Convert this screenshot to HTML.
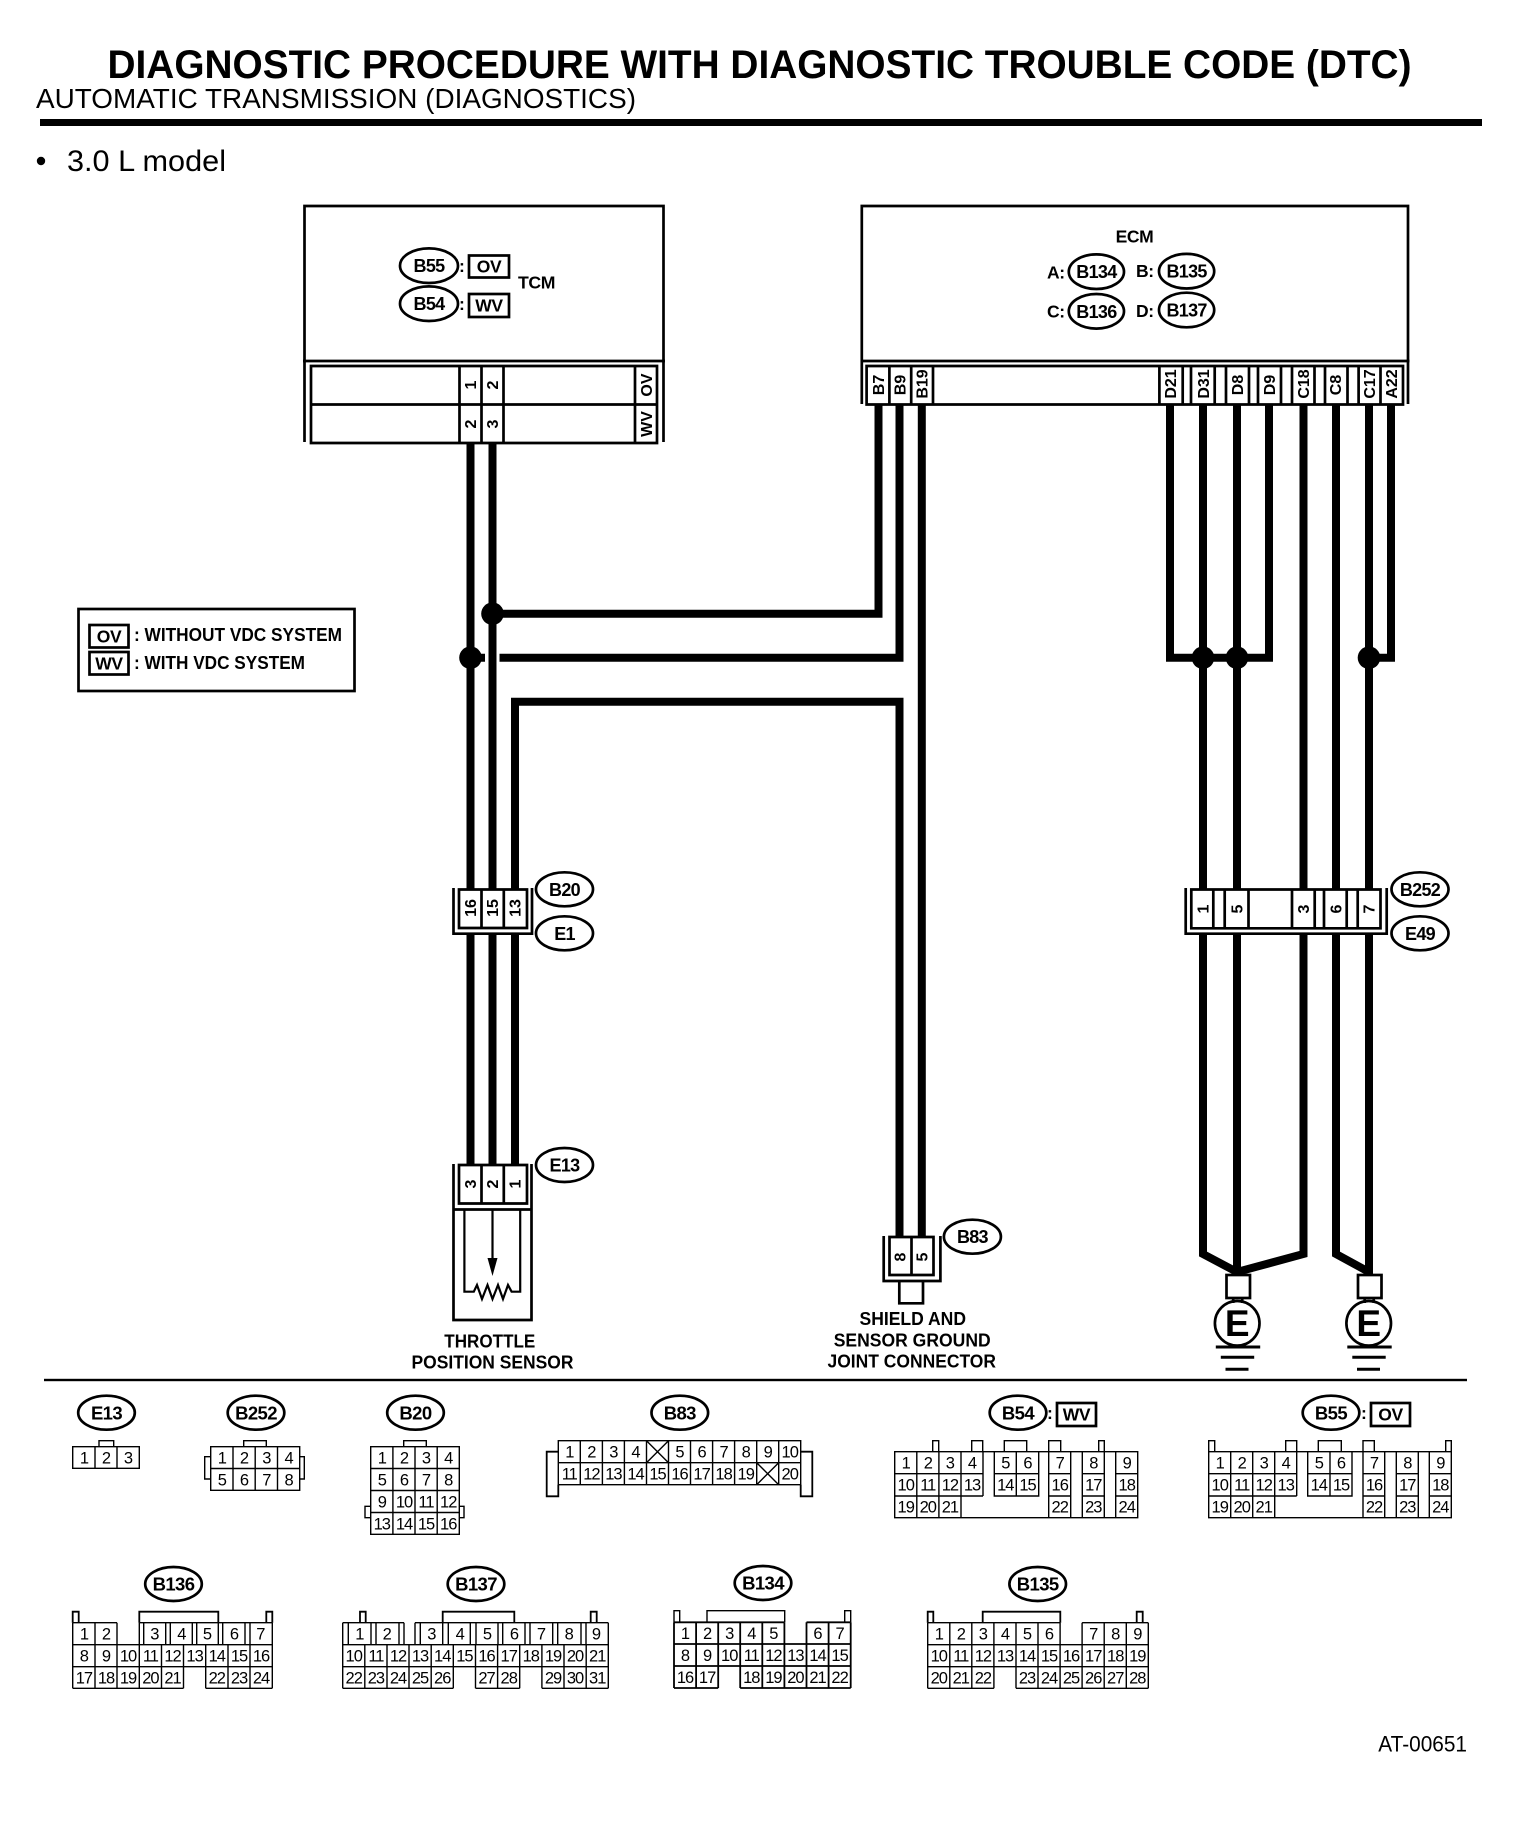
<!DOCTYPE html>
<html><head><meta charset="utf-8"><title>Diagnostic Procedure</title>
<style>
html,body{margin:0;padding:0;background:#fff}
svg{display:block}
text{font-family:"Liberation Sans",Arial,sans-serif;fill:#000}
.b{font-weight:bold}
.n text{font-size:16.5px;letter-spacing:-1px;text-anchor:middle}
.o{fill:#fff;stroke:#000;stroke-width:2.7}
.ot{font-weight:bold;font-size:18.5px;letter-spacing:-.6px;text-anchor:middle}
.os{font-weight:bold;font-size:18px;letter-spacing:-.7px;text-anchor:middle}
.r{font-weight:bold;font-size:16px;text-anchor:middle}
.w{fill:none;stroke:#000;stroke-width:8;stroke-linejoin:miter}
.l{fill:none;stroke:#000;stroke-width:2.7}
.g{fill:none;stroke:#000;stroke-width:1.4}
.t{fill:none;stroke:#000;stroke-width:2.2}
.c{font-weight:bold;font-size:17.5px;letter-spacing:-.4px}
</style></head><body>
<svg xmlns="http://www.w3.org/2000/svg" width="1520" height="1834" viewBox="0 0 1520 1834">
<rect width="1520" height="1834" fill="#fff"/>

<!-- header -->
<text class="b" x="107.5" y="78" font-size="39.5" textLength="1304" lengthAdjust="spacingAndGlyphs">DIAGNOSTIC PROCEDURE WITH DIAGNOSTIC TROUBLE CODE (DTC)</text>
<text x="36" y="108" font-size="27.5" textLength="600" lengthAdjust="spacingAndGlyphs">AUTOMATIC TRANSMISSION (DIAGNOSTICS)</text>
<rect x="40" y="119" width="1442" height="7"/>
<circle cx="41" cy="161" r="4.2"/>
<text x="67" y="171" font-size="30" textLength="159" lengthAdjust="spacingAndGlyphs">3.0 L model</text>

<!-- wires -->
<g class="w">
<path d="M470.5 443V889M492.5 443V889"/>
<path d="M492.5 613.7H878.5V404"/>
<path d="M470.5 657.7H485M499.5 657.7H899.5V404"/>
<path d="M515 889V701.7H899.5V1237"/>
<path d="M921.8 404V1237"/>
<path d="M470.5 933V1165M492.5 933V1165M515 933V1165"/>
<path d="M1170 404V657.7H1269V404"/>
<path d="M1203 404V889M1237 404V889M1303.5 404V889M1336 404V889M1369 404V889"/>
<path d="M1391 404V657.7H1369"/>
<path d="M1203 933V1254L1237 1272M1303.5 933V1254L1237 1272M1237 933V1276"/>
<path d="M1336 933V1254L1369 1272M1369 933V1276"/>
</g>
<g>
<circle cx="492.5" cy="613.7" r="11.3"/><circle cx="470.5" cy="657.7" r="11.3"/>
<circle cx="1203" cy="657.7" r="11.3"/><circle cx="1237" cy="657.7" r="11.3"/><circle cx="1369" cy="657.7" r="11.3"/>
</g>

<!-- TCM -->
<path class="l" d="M304.5 361V206H663.5V361M303 361H665"/>
<path class="l" d="M304.5 361V442M663.5 361V442"/>
<path class="l" d="M311 366H657V443H311ZM311 404.5H657M459.5 366V443M481.5 366V443M503.5 366V443M635 366V443"/>
<ellipse class="o" cx="429" cy="265.7" rx="29" ry="17.3"/><text class="os" x="429" y="272.2">B55</text>
<ellipse class="o" cx="429" cy="303.7" rx="29" ry="17.3"/><text class="os" x="429" y="310.2">B54</text>
<text class="c" x="459" y="272">:</text><text class="c" x="459" y="310">:</text>
<rect class="l" x="469" y="255.5" width="40" height="22"/><text class="c" x="489" y="272.5" text-anchor="middle">OV</text>
<rect class="l" x="469" y="294" width="40" height="23"/><text class="c" x="489" y="311.5" text-anchor="middle">WV</text>
<text class="c" x="518" y="288.7" textLength="37" lengthAdjust="spacingAndGlyphs">TCM</text>
<text class="r" transform="translate(476,385) rotate(-90)">1</text>
<text class="r" transform="translate(498,385) rotate(-90)">2</text>
<text class="r" transform="translate(652,385) rotate(-90)">OV</text>
<text class="r" transform="translate(476,424) rotate(-90)">2</text>
<text class="r" transform="translate(498,424) rotate(-90)">3</text>
<text class="r" transform="translate(652,424) rotate(-90)">WV</text>

<!-- ECM -->
<path class="l" d="M861.8 361V206H1408V361M860.5 361H1409.5"/>
<path class="l" d="M861.8 361V404M1408 361V404"/>
<path class="l" d="M866.6 366H1403V404.5H866.6ZM889.4 366V404.5M911.2 366V404.5M933 366V404.5M1159.4 366V404.5M1182.7 366V404.5M1191 366V404.5M1214.7 366V404.5M1226 366V404.5M1249 366V404.5M1258 366V404.5M1281 366V404.5M1292 366V404.5M1314.5 366V404.5M1325 366V404.5M1347.5 366V404.5M1358.6 366V404.5M1380.5 366V404.5"/>
<text class="c" x="1134.5" y="242.3" text-anchor="middle">ECM</text>
<text class="c" x="1047" y="278.7">A:</text><text class="c" x="1136" y="277">B:</text>
<text class="c" x="1047" y="317.5">C:</text><text class="c" x="1136" y="317">D:</text>
<ellipse class="o" cx="1096.4" cy="271.7" rx="27.6" ry="17.3"/><text class="os" x="1096.4" y="278.2">B134</text>
<ellipse class="o" cx="1186.6" cy="271.2" rx="27.6" ry="17.3"/><text class="os" x="1186.6" y="277.7">B135</text>
<ellipse class="o" cx="1096.4" cy="311.3" rx="27.6" ry="17.3"/><text class="os" x="1096.4" y="317.8">B136</text>
<ellipse class="o" cx="1186.6" cy="310" rx="27.6" ry="17.3"/><text class="os" x="1186.6" y="316.5">B137</text>
<g>
<text class="r" transform="translate(884,385) rotate(-90)">B7</text>
<text class="r" transform="translate(905.5,385) rotate(-90)">B9</text>
<text class="r" transform="translate(927.5,384) rotate(-90)">B19</text>
<text class="r" transform="translate(1176,384) rotate(-90)">D21</text>
<text class="r" transform="translate(1209,384) rotate(-90)">D31</text>
<text class="r" transform="translate(1243,385) rotate(-90)">D8</text>
<text class="r" transform="translate(1275,385) rotate(-90)">D9</text>
<text class="r" transform="translate(1309,384) rotate(-90)">C18</text>
<text class="r" transform="translate(1341,385) rotate(-90)">C8</text>
<text class="r" transform="translate(1375,384) rotate(-90)">C17</text>
<text class="r" transform="translate(1397,384) rotate(-90)">A22</text>
</g>

<!-- legend -->
<rect class="l" x="78.5" y="609" width="276" height="82"/>
<rect class="l" x="89.5" y="625" width="39" height="22.5"/><text class="c" x="109" y="642.5" text-anchor="middle">OV</text>
<rect class="l" x="89.5" y="652" width="39" height="22.5"/><text class="c" x="109" y="669.5" text-anchor="middle">WV</text>
<text class="b" x="134" y="641" font-size="18" textLength="208" lengthAdjust="spacingAndGlyphs">: WITHOUT VDC SYSTEM</text>
<text class="b" x="134" y="669" font-size="18" textLength="171" lengthAdjust="spacingAndGlyphs">: WITH VDC SYSTEM</text>

<!-- B20/E1 -->
<path class="l" d="M459 889.5H527V928H459ZM481.5 889.5V928M503.8 889.5V928"/>
<path class="l" d="M453.5 888V933.7H532V888"/>
<text class="r" transform="translate(476,908) rotate(-90)">16</text>
<text class="r" transform="translate(498,908) rotate(-90)">15</text>
<text class="r" transform="translate(520.5,908) rotate(-90)">13</text>
<ellipse class="o" cx="564.5" cy="889.3" rx="28.5" ry="17"/><text class="os" x="564.5" y="895.8">B20</text>
<ellipse class="o" cx="564.5" cy="933.3" rx="28.5" ry="17"/><text class="os" x="564.5" y="939.8">E1</text>

<!-- E13 sensor -->
<path class="l" d="M459 1165H527V1203.5H459ZM481.5 1165V1203.5M503.8 1165V1203.5"/>
<path class="l" d="M453.5 1164V1320H531.5V1164M453.5 1209.5H531.5"/>
<path class="t" d="M464.4 1209.5V1291.7H473.8L477 1285L482 1299L487.5 1285L492.5 1299L498 1285L503 1299L508 1285L511.6 1291.7H520.2V1209.5"/>
<path class="t" d="M492.5 1209.5V1260"/>
<path d="M487.5 1258H497.5L492.5 1276Z"/>
<text class="r" transform="translate(476,1184) rotate(-90)">3</text>
<text class="r" transform="translate(498,1184) rotate(-90)">2</text>
<text class="r" transform="translate(520.5,1184) rotate(-90)">1</text>
<ellipse class="o" cx="564.5" cy="1165" rx="28.5" ry="17"/><text class="os" x="564.5" y="1171.5">E13</text>
<text class="b" x="444.3" y="1347.3" font-size="18.5" textLength="91" lengthAdjust="spacingAndGlyphs">THROTTLE</text>
<text class="b" x="411.5" y="1368.7" font-size="18.5" textLength="162" lengthAdjust="spacingAndGlyphs">POSITION SENSOR</text>

<!-- B83 joint -->
<g transform="translate(-2,0)">
<path class="l" d="M891.5 1237H935.5V1275H891.5ZM913.5 1237V1275"/>
<path class="l" d="M885.7 1236V1281H942.4V1236"/>
<path class="l" d="M901.3 1281V1303.3H925V1281"/>
<text class="r" transform="translate(907.5,1257) rotate(-90)">8</text>
<text class="r" transform="translate(929.5,1257) rotate(-90)">5</text>
<ellipse class="o" cx="974.4" cy="1236.7" rx="28.5" ry="17"/><text class="os" x="974.4" y="1243.2">B83</text>
<text class="b" x="861.5" y="1325" font-size="18.5" textLength="106.5" lengthAdjust="spacingAndGlyphs">SHIELD AND</text>
<text class="b" x="835.7" y="1346.7" font-size="18.5" textLength="157" lengthAdjust="spacingAndGlyphs">SENSOR GROUND</text>
<text class="b" x="829.5" y="1367.7" font-size="18.5" textLength="168.5" lengthAdjust="spacingAndGlyphs">JOINT CONNECTOR</text>
</g>

<!-- B252/E49 -->
<path class="l" d="M1191.3 889.5H1380.5V928.3H1191.3ZM1213.3 889.5V928.3M1224.7 889.5V928.3M1248.5 889.5V928.3M1292 889.5V928.3M1314.7 889.5V928.3M1324 889.5V928.3M1346.7 889.5V928.3M1357.7 889.5V928.3"/>
<path class="l" d="M1185.7 888V933.7H1386.7V888"/>
<text class="r" transform="translate(1208.5,909) rotate(-90)">1</text>
<text class="r" transform="translate(1242.5,909) rotate(-90)">5</text>
<text class="r" transform="translate(1309,909) rotate(-90)">3</text>
<text class="r" transform="translate(1341.5,909) rotate(-90)">6</text>
<text class="r" transform="translate(1374.5,909) rotate(-90)">7</text>
<ellipse class="o" cx="1420" cy="889.3" rx="28.5" ry="17"/><text class="os" x="1420" y="895.8">B252</text>
<ellipse class="o" cx="1420" cy="933.3" rx="28.5" ry="17"/><text class="os" x="1420" y="939.8">E49</text>

<!-- grounds -->
<g transform="translate(1.5,0)">
<rect class="l" x="1225" y="1275" width="23.5" height="23" style="fill:#fff"/>
<path class="l" d="M1231.7 1298V1303M1240.7 1298V1303"/>
<circle class="l" cx="1235.7" cy="1323.3" r="22.3"/>
<text class="b" x="1235.7" y="1336" font-size="37" text-anchor="middle">E</text>
<path class="l" style="stroke-width:3" d="M1214.3 1347H1258.7M1219.3 1357.3H1252.7M1224 1369.3H1247"/>
</g>
<g transform="translate(1,0)">
<rect class="l" x="1357" y="1275" width="23.5" height="23" style="fill:#fff"/>
<path class="l" d="M1363.7 1298V1303M1372.7 1298V1303"/>
<circle class="l" cx="1367.7" cy="1323.3" r="22.3"/>
<text class="b" x="1367.7" y="1336" font-size="37" text-anchor="middle">E</text>
<path class="l" style="stroke-width:3" d="M1346.3 1347H1390.7M1351.3 1357.3H1384.7M1356 1369.3H1379"/>
</g>

<!-- rule -->
<rect x="44" y="1378.8" width="1423" height="2.4"/>

<!-- top ovals for connectors -->
<ellipse class="o" cx="106.5" cy="1412.7" rx="28.3" ry="17"/><text class="ot" x="106.5" y="1419.4">E13</text>
<ellipse class="o" cx="256" cy="1412.7" rx="28.3" ry="17"/><text class="ot" x="256" y="1419.4">B252</text>
<ellipse class="o" cx="415.5" cy="1412.7" rx="28.3" ry="17"/><text class="ot" x="415.5" y="1419.4">B20</text>
<ellipse class="o" cx="679.8" cy="1412.7" rx="28.3" ry="17"/><text class="ot" x="679.8" y="1419.4">B83</text>
<ellipse class="o" cx="1018" cy="1412.7" rx="28.3" ry="17"/><text class="ot" x="1018" y="1419.4">B54</text>
<text class="c" x="1047" y="1419">:</text>
<rect class="l" x="1057" y="1403" width="39" height="23"/><text class="c" x="1076.5" y="1420.5" text-anchor="middle">WV</text>
<ellipse class="o" cx="1331" cy="1412.7" rx="28.3" ry="17"/><text class="ot" x="1331" y="1419.4">B55</text>
<text class="c" x="1361" y="1419">:</text>
<rect class="l" x="1371" y="1403" width="39" height="23"/><text class="c" x="1390.5" y="1420.5" text-anchor="middle">OV</text>
<ellipse class="o" cx="173.5" cy="1584" rx="28.3" ry="17"/><text class="ot" x="173.5" y="1590.7">B136</text>
<ellipse class="o" cx="476" cy="1584" rx="28.3" ry="17"/><text class="ot" x="476" y="1590.7">B137</text>
<ellipse class="o" cx="763" cy="1583" rx="28.3" ry="17"/><text class="ot" x="763" y="1589.7">B134</text>
<ellipse class="o" cx="1037.7" cy="1584" rx="28.3" ry="17"/><text class="ot" x="1037.7" y="1590.7">B135</text>

<!-- E13 connector -->
<path class="g" d="M72.7 1446.7H139.3V1468.3H72.7ZM95 1446.7V1468.3M117 1446.7V1468.3M99 1446.7V1440.7H113.7V1446.7"/>
<g class="n" transform="translate(0,1463.5)"><text x="84">1</text><text x="106">2</text><text x="128">3</text></g>

<!-- B252 connector -->
<path class="g" d="M210.7 1446.7H299.7V1490.3H210.7ZM210.7 1468.5H299.7M233 1446.7V1490.3M255.2 1446.7V1490.3M277.5 1446.7V1490.3M243.7 1446.7V1440.7H266.3V1446.7M210.7 1456.7H204.7V1479H210.7M299.7 1456.7H304.3V1479H299.7"/>
<g class="n" transform="translate(0,1463.5)"><text x="221.8">1</text><text x="244">2</text><text x="266.3">3</text><text x="288.6">4</text></g>
<g class="n" transform="translate(0,1485.5)"><text x="221.8">5</text><text x="244">6</text><text x="266.3">7</text><text x="288.6">8</text></g>

<!-- B20 connector -->
<path class="g" d="M370.7 1446.7H459.3V1534.3H370.7ZM370.7 1468.5H459.3M370.7 1490.5H459.3M370.7 1512.5H459.3M392.9 1446.7V1534.3M415 1446.7V1534.3M437.2 1446.7V1534.3M403.7 1446.7V1440.7H426.3V1446.7M370.7 1506.3H365V1517.7H370.7M459.3 1506.3H464V1517.7H459.3"/>
<g class="n" transform="translate(0,1463.5)"><text x="381.8">1</text><text x="404">2</text><text x="426">3</text><text x="448.2">4</text></g>
<g class="n" transform="translate(0,1485.5)"><text x="381.8">5</text><text x="404">6</text><text x="426">7</text><text x="448.2">8</text></g>
<g class="n" transform="translate(0,1507.5)"><text x="381.8">9</text><text x="404">10</text><text x="426">11</text><text x="448.2">12</text></g>
<g class="n" transform="translate(0,1529.5)"><text x="381.8">13</text><text x="404">14</text><text x="426">15</text><text x="448.2">16</text></g>

<!-- B83 connector -->
<path class="g" d="M558.3 1440.7H800.7V1484.7H558.3ZM558.3 1462.7H800.7M580.3 1440.7V1484.7M602.4 1440.7V1484.7M624.4 1440.7V1484.7M646.5 1440.7V1484.7M668.5 1440.7V1484.7M690.5 1440.7V1484.7M712.6 1440.7V1484.7M734.6 1440.7V1484.7M756.7 1440.7V1484.7M778.7 1440.7V1484.7M646.5 1440.7L668.5 1462.7M668.5 1440.7L646.5 1462.7M756.7 1462.7L778.7 1484.7M778.7 1462.7L756.7 1484.7"/>
<path class="g" style="stroke-width:1.8" d="M558.3 1451.7H546.7V1496.3H558.3V1484.7M800.7 1451.7H812.3V1496.3H800.7V1484.7"/>
<g class="n" transform="translate(0,1457.5)"><text x="569.3">1</text><text x="591.4">2</text><text x="613.4">3</text><text x="635.5">4</text><text x="679.5">5</text><text x="701.6">6</text><text x="723.6">7</text><text x="745.7">8</text><text x="767.7">9</text><text x="789.7">10</text></g>
<g class="n" transform="translate(0,1479.5)"><text x="569.3">11</text><text x="591.4">12</text><text x="613.4">13</text><text x="635.5">14</text><text x="657.5">15</text><text x="679.5">16</text><text x="701.6">17</text><text x="723.6">18</text><text x="745.7">19</text><text x="789.7">20</text></g>

<!-- B54 connector -->
<path class="g" d="M894.7 1451.7H1137.7V1517.7H894.7ZM894.7 1473.7H983M894.7 1496H983M916.8 1451.7V1517.7M938.9 1451.7V1517.7M961 1451.7V1517.7M983 1451.7V1496M994.3 1451.7V1496H1038.7V1451.7M994.3 1473.7H1038.7M1016.3 1451.7V1496M1048.7 1451.7V1517.7M1070.7 1451.7V1517.7M1048.7 1473.7H1070.7M1048.7 1496H1070.7M1082.3 1451.7V1517.7M1104.3 1451.7V1517.7M1082.3 1473.7H1104.3M1082.3 1496H1104.3M1115.7 1451.7V1517.7M1115.7 1473.7H1137.7M1115.7 1496H1137.7"/>
<path class="g" d="M932.7 1451.7V1440.7H938.7V1451.7M971.7 1451.7V1440.7H982.7V1451.7M1004.3 1451.7V1440.7H1026.7V1451.7M1048.7 1451.7V1440.7H1060.7V1451.7M1098.7 1451.7V1440.7H1104.3V1451.7"/>
<g class="n" transform="translate(0,1468.5)"><text x="905.7">1</text><text x="927.8">2</text><text x="949.9">3</text><text x="972">4</text><text x="1005.3">5</text><text x="1027.5">6</text><text x="1059.7">7</text><text x="1093.3">8</text><text x="1126.7">9</text></g>
<g class="n" transform="translate(0,1490.5)"><text x="905.7">10</text><text x="927.8">11</text><text x="949.9">12</text><text x="972">13</text><text x="1005.3">14</text><text x="1027.5">15</text><text x="1059.7">16</text><text x="1093.3">17</text><text x="1126.7">18</text></g>
<g class="n" transform="translate(0,1512.5)"><text x="905.7">19</text><text x="927.8">20</text><text x="949.9">21</text><text x="1059.7">22</text><text x="1093.3">23</text><text x="1126.7">24</text></g>

<!-- B55 connector -->
<path class="g" d="M1208.7 1451.7H1451.3V1517.7H1208.7ZM1208.7 1473.7H1296.7M1208.7 1496H1296.7M1230.7 1451.7V1517.7M1252.7 1451.7V1517.7M1274.7 1451.7V1517.7M1296.7 1451.7V1496M1307.7 1451.7V1496H1352V1451.7M1307.7 1473.7H1352M1330 1451.7V1496M1363 1451.7V1517.7M1384.7 1451.7V1517.7M1363 1473.7H1384.7M1363 1496H1384.7M1396.3 1451.7V1517.7M1418.3 1451.7V1517.7M1396.3 1473.7H1418.3M1396.3 1496H1418.3M1429.3 1451.7V1517.7M1429.3 1473.7H1451.3M1429.3 1496H1451.3"/>
<path class="g" d="M1208.7 1451.7V1440.7H1214.7V1451.7M1285.7 1451.7V1440.7H1296.7V1451.7M1318.3 1451.7V1440.7H1341.3V1451.7M1363 1451.7V1440.7H1374.3V1451.7M1445.7 1451.7V1440.7H1451.3V1451.7"/>
<g class="n" transform="translate(0,1468.5)"><text x="1219.7">1</text><text x="1241.7">2</text><text x="1263.7">3</text><text x="1285.7">4</text><text x="1318.8">5</text><text x="1341">6</text><text x="1374">7</text><text x="1407.3">8</text><text x="1440.3">9</text></g>
<g class="n" transform="translate(0,1490.5)"><text x="1219.7">10</text><text x="1241.7">11</text><text x="1263.7">12</text><text x="1285.7">13</text><text x="1318.8">14</text><text x="1341">15</text><text x="1374">16</text><text x="1407.3">17</text><text x="1440.3">18</text></g>
<g class="n" transform="translate(0,1512.5)"><text x="1219.7">19</text><text x="1241.7">20</text><text x="1263.7">21</text><text x="1374">22</text><text x="1407.3">23</text><text x="1440.3">24</text></g>

<!-- B136 connector -->
<path class="g" d="M72.7 1622.7H117M218.3 1622.7H272.3M139.3 1622.7H218.3M72.7 1644.7H272.3M72.7 1666.7H272.3M72.7 1688.3H183.5M205.7 1688.3H272.3M72.7 1622.7V1688.3M95 1622.7V1688.3M117 1622.7V1688.3M139.3 1622.7V1688.3M143.7 1622.7V1644.7M165.7 1622.7V1644.7M170.3 1622.7V1644.7M192.3 1622.7V1644.7M196.7 1622.7V1644.7M218.3 1622.7V1644.7M222.7 1622.7V1644.7M245 1622.7V1644.7M250 1622.7V1688.3M272.3 1622.7V1688.3M161.5 1644.7V1688.3M183.5 1644.7V1688.3M205.7 1644.7V1688.3M228 1644.7V1688.3"/>
<path class="g" style="stroke-width:1.8" d="M72.7 1622.7V1611.7H78.7V1622.7M266.3 1622.7V1611.7H272.3V1622.7M139.3 1622.7V1611.7H218.3V1622.7"/>
<g class="n" transform="translate(0,1639.5)"><text x="84">1</text><text x="106">2</text><text x="154.3">3</text><text x="181.3">4</text><text x="207">5</text><text x="234">6</text><text x="260.3">7</text></g>
<g class="n" transform="translate(0,1661.5)"><text x="83.9">8</text><text x="106">9</text><text x="128">10</text><text x="150.4">11</text><text x="172.5">12</text><text x="194.6">13</text><text x="216.8">14</text><text x="239">15</text><text x="261">16</text></g>
<g class="n" transform="translate(0,1683.5)"><text x="83.9">17</text><text x="106">18</text><text x="128">19</text><text x="150.4">20</text><text x="172.5">21</text><text x="216.8">22</text><text x="239">23</text><text x="261">24</text></g>

<!-- B137 connector -->
<path class="g" d="M342.7 1622.7H404M415 1622.7H608.3M342.7 1644.7H608.3M342.7 1666.7H608.3M342.7 1688.3H453.3M475.5 1688.3H519.7M541.9 1688.3H608.3M342.7 1622.7V1688.3M608.3 1622.7V1688.3M348.3 1622.7V1644.7M371 1622.7V1644.7M376 1622.7V1644.7M399 1622.7V1644.7M404 1622.7V1644.7M415 1622.7V1644.7M420.3 1622.7V1644.7M442.7 1622.7V1644.7M448.3 1622.7V1644.7M470.3 1622.7V1644.7M476 1622.7V1644.7M498 1622.7V1644.7M502.7 1622.7V1644.7M525 1622.7V1644.7M530 1622.7V1644.7M552.7 1622.7V1644.7M557.7 1622.7V1644.7M581 1622.7V1644.7M586 1622.7V1644.7M364.8 1644.7V1688.3M387 1644.7V1688.3M409 1644.7V1688.3M431.2 1644.7V1688.3M453.3 1644.7V1688.3M475.5 1644.7V1688.3M497.6 1644.7V1688.3M519.7 1644.7V1688.3M541.9 1644.7V1688.3M564 1644.7V1688.3M586.2 1644.7V1688.3"/>
<path class="g" style="stroke-width:1.8" d="M360 1622.7V1611.7H365.7V1622.7M590.7 1622.7V1611.7H596.7V1622.7M442.7 1622.7V1611.7H514.3V1622.7"/>
<g class="n" transform="translate(0,1639.5)"><text x="359.3">1</text><text x="386.7">2</text><text x="431.3">3</text><text x="459.7">4</text><text x="487">5</text><text x="514">6</text><text x="541">7</text><text x="568.7">8</text><text x="596">9</text></g>
<g class="n" transform="translate(0,1661.5)"><text x="353.7">10</text><text x="375.9">11</text><text x="398">12</text><text x="420">13</text><text x="442.2">14</text><text x="464.4">15</text><text x="486.5">16</text><text x="508.7">17</text><text x="530.8">18</text><text x="553">19</text><text x="575">20</text><text x="597.2">21</text></g>
<g class="n" transform="translate(0,1683.5)"><text x="353.7">22</text><text x="375.9">23</text><text x="398">24</text><text x="420">25</text><text x="442.2">26</text><text x="486.5">27</text><text x="508.7">28</text><text x="553">29</text><text x="575">30</text><text x="597.2">31</text></g>

<!-- B134 connector -->
<path class="g" style="stroke-width:1.8" d="M674 1622.3H784.4M806.5 1622.3H850.7M674 1644H850.7M674 1666H850.7M674 1688H718.2M740.2 1688H850.7M674 1622.3V1688M696.1 1622.3V1688M718.2 1622.3V1688M740.2 1622.3V1688M762.3 1622.3V1688M784.4 1622.3V1688M806.5 1622.3V1688M828.6 1622.3V1688M850.7 1622.3V1688"/>
<path class="g" d="M674 1622.3V1610.7H679.7V1622.3M844.7 1622.3V1610.7H850.7V1622.3M707 1622.3V1610.7H784.7V1622.3"/>
<g class="n" transform="translate(0,1639)"><text x="685">1</text><text x="707.1">2</text><text x="729.2">3</text><text x="751.3">4</text><text x="773.4">5</text><text x="817.5">6</text><text x="839.6">7</text></g>
<g class="n" transform="translate(0,1661)"><text x="685">8</text><text x="707.1">9</text><text x="729.2">10</text><text x="751.3">11</text><text x="773.4">12</text><text x="795.4">13</text><text x="817.5">14</text><text x="839.6">15</text></g>
<g class="n" transform="translate(0,1683)"><text x="685">16</text><text x="707.1">17</text><text x="751.3">18</text><text x="773.4">19</text><text x="795.4">20</text><text x="817.5">21</text><text x="839.6">22</text></g>

<!-- B135 connector -->
<path class="g" d="M927.7 1622.7H1060.1M1082.1 1622.7H1148.3M927.7 1644.7H1148.3M927.7 1666.7H1148.3M927.7 1688.3H993.9M1016 1688.3H1148.3M927.7 1622.7V1688.3M949.8 1622.7V1688.3M971.8 1622.7V1688.3M993.9 1622.7V1688.3M1016 1622.7V1688.3M1038 1622.7V1688.3M1060.1 1622.7V1688.3M1082.1 1622.7V1688.3M1104.2 1622.7V1688.3M1126.3 1622.7V1688.3M1148.3 1622.7V1688.3"/>
<path class="g" style="stroke-width:1.8" d="M927.7 1622.7V1611.7H933.3V1622.7M1136.7 1622.7V1611.7H1142.7V1622.7M982.7 1622.7V1611.7H1060.3V1622.7"/>
<g class="n" transform="translate(0,1639.5)"><text x="938.8">1</text><text x="960.8">2</text><text x="982.9">3</text><text x="1005">4</text><text x="1027">5</text><text x="1049">6</text><text x="1093.2">7</text><text x="1115.2">8</text><text x="1137.3">9</text></g>
<g class="n" transform="translate(0,1661.5)"><text x="938.8">10</text><text x="960.8">11</text><text x="982.9">12</text><text x="1005">13</text><text x="1027">14</text><text x="1049">15</text><text x="1071">16</text><text x="1093.2">17</text><text x="1115.2">18</text><text x="1137.3">19</text></g>
<g class="n" transform="translate(0,1683.5)"><text x="938.8">20</text><text x="960.8">21</text><text x="982.9">22</text><text x="1027">23</text><text x="1049">24</text><text x="1071">25</text><text x="1093.2">26</text><text x="1115.2">27</text><text x="1137.3">28</text></g>

<text x="1378.3" y="1751.7" font-size="22" textLength="88.7" lengthAdjust="spacingAndGlyphs">AT-00651</text>
</svg>
</body></html>
